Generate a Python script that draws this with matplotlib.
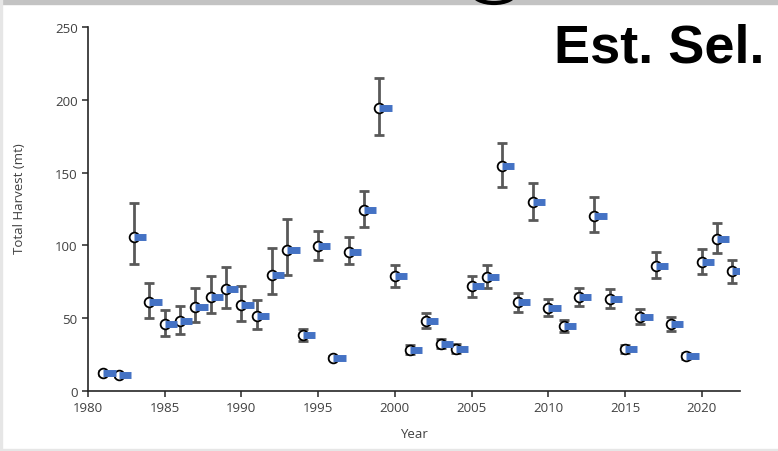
import numpy as np
import matplotlib
matplotlib.use("Agg")
import matplotlib.pyplot as plt
from matplotlib.patches import Rectangle, Ellipse

years = list(range(1981, 2023))
harvest = [12.2, 10.8, 105.8, 61.0, 45.8, 47.9, 57.4, 64.7, 70.0, 58.9,
           51.6, 80.0, 96.8, 38.4, 99.8, 22.6, 95.4, 124.1, 194.5, 78.8,
           27.9, 48.0, 32.0, 29.0, 72.0, 78.2, 154.3, 60.8, 129.7, 57.0,
           44.6, 64.4, 120.2, 63.4, 28.6, 50.6, 85.7, 45.8, 23.8, 88.8,
           104.1, 82.3]
lower = [11.0, 9.8, 87.3, 50.2, 37.6, 39.2, 47.2, 53.4, 57.2, 48.1,
         42.4, 66.3, 79.4, 34.4, 90.1, 21.8, 87.1, 112.4, 176.0, 71.2,
         25.4, 43.3, 29.3, 26.3, 64.7, 70.9, 139.9, 54.6, 117.6, 51.4,
         40.3, 58.3, 109.4, 57.1, 26.3, 46.1, 77.9, 41.2, 21.9, 80.1,
         94.8, 74.1]
upper = [13.6, 12.0, 129.3, 74.5, 55.5, 58.2, 70.4, 78.9, 85.2, 72.2,
         62.8, 98.0, 117.9, 42.6, 110.1, 23.8, 105.5, 137.4, 214.8, 86.4,
         31.5, 53.3, 35.6, 32.0, 79.3, 86.4, 170.3, 67.0, 143.0, 63.4,
         48.7, 71.0, 133.2, 70.1, 31.5, 56.3, 95.2, 51.0, 26.0, 97.5,
         115.2, 90.1]
# second series (blue dashes), same estimates
selected = harvest

yr = np.array(years)
h = np.array(harvest)
yerr = [h - np.array(lower), np.array(upper) - h]

fig = plt.figure(figsize=(7.78, 4.52), dpi=100)
ax = fig.add_axes([88/778, 1-392/452, (740-88)/778, (392-28)/452])

grey = "#595959"
ax.errorbar(yr, h, yerr=yerr, fmt="none", ecolor=grey, elinewidth=2,
            capsize=3.5, capthick=2, zorder=2)
ax.plot(yr, h, "o", ms=7, mfc="white", mec="black", mew=1.3, zorder=3)
ax.hlines(selected, yr, yr + 0.8, colors="#4472C4", lw=5, zorder=4)

ax.set_xlim(1980, 2022.5)
ax.set_ylim(0, 250)
ax.set_xticks(range(1980, 2021, 5))
ax.set_yticks(range(0, 251, 50))
for s in ["top", "right"]:
    ax.spines[s].set_visible(False)
for s in ["left", "bottom"]:
    ax.spines[s].set_color("#262626")
    ax.spines[s].set_linewidth(1.2)
ax.tick_params(labelsize=9.5, colors="#262626", labelcolor="#404040",
               length=4, width=1.1)
for t in ax.get_xticklabels() + ax.get_yticklabels():
    t.set_family("Open Sans")
ax.set_xlabel("Year", fontsize=9.5, color="#404040", family="Open Sans",
              labelpad=9)
ax.set_ylabel("Total Harvest (mt)", fontsize=9.5, color="#404040",
              family="Open Sans")
ax.yaxis.set_label_coords(-0.095, 0.53)

fig.text(765/778, 1-63/452, "Est. Sel.", ha="right", va="baseline",
         fontsize=39, fontweight="bold", family="Liberation Sans")

# window frame bits
fig.patches.append(Rectangle((0, 1-5/452), 1, 5/452, transform=fig.transFigure,
                             color="#c3c3c3", zorder=0))
fig.patches.append(Ellipse((494/778, 1+6/452), 42/778, 20/452,
                           transform=fig.transFigure, fill=False,
                           ec="black", lw=3, zorder=1))
fig.patches.append(Rectangle((0, 0), 1, 2/452, transform=fig.transFigure,
                             color="#e6e6e6", zorder=0))
fig.patches.append(Rectangle((0, 0), 2/778, 1, transform=fig.transFigure,
                             color="#e6e6e6", zorder=0))

fig.savefig("out.png", dpi=100)
